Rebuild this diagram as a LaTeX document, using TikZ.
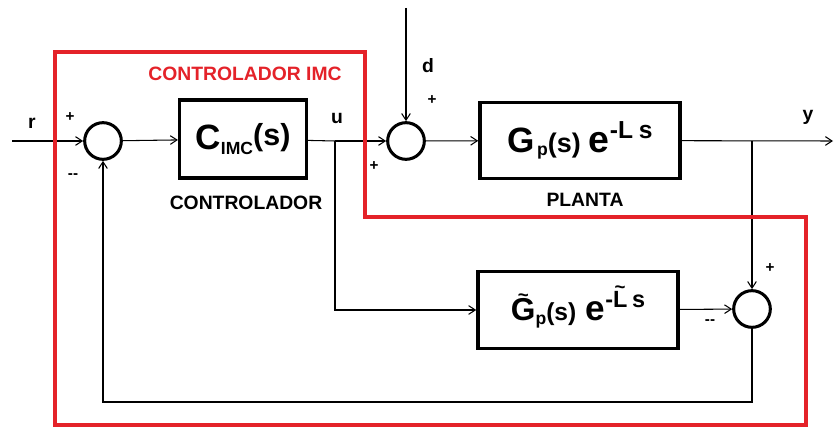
\documentclass[tikz,border=0pt]{standalone}
\usepackage{fontspec}
\setmainfont{Liberation Sans}
\usetikzlibrary{positioning,arrows.meta}
\definecolor{imcred}{HTML}{E42229}
\newcommand\fz[1]{\fontsize{#1}{#1}\selectfont}
\newcommand\tld[1]{\ooalign{#1\cr\hidewidth\raisebox{0.62em}{\fz{16}\textasciitilde}\hidewidth\cr}}

\begin{document}
\begin{tikzpicture}[
  x=0.03cm,y=-0.03cm,font=\bfseries,
  sumnode/.style={circle,draw,line width=2.6pt,minimum size=1.1cm,inner sep=0pt},
  blk/.style={rectangle,draw,line width=3pt,inner sep=0pt},
  sig/.style={line width=0.9pt},
  arr/.style={sig,-{Straight Barb[length=2mm,width=2.6mm]}},
  lbl/.style={font=\bfseries\fz{16.5}},
  sgn/.style={font=\bfseries\fz{13}}
]
\useasboundingbox (0,0) rectangle (834,428);
% blocks and summing points
\node[sumnode] (s1) at (103,141) {};
\node[blk,minimum width=3.8cm,minimum height=2.35cm] (cimc) at (243,139)
  {{\fz{30}C}{\fz{15}\raisebox{-0.55ex}{IMC}}{\fz{26}\raisebox{0.25ex}{(s)}}};
\node[sumnode] (s2) at (406,141) {};
\node[blk,minimum width=6cm,minimum height=2.27cm] (plant) at (580,140.5)
  {{\fz{30}G}{\fz{15}\raisebox{-0.4ex}{\kern2pt p}}{\fz{23}(s)}\kern7pt{\fz{32}e}{\fz{21}\raisebox{1.05ex}{-L\kern5pt s}}};
\node[blk,minimum width=6cm,minimum height=2.3cm] (model) at (578,310)
  {{\fz{27}\tld{G}}{\fz{15}\raisebox{-0.4ex}{p}}{\fz{21}(s)}\kern8pt{\fz{30}e}{\fz{20}\raisebox{1.05ex}{-\tld{L}\kern4pt s}}};
\node[sumnode] (s3) at (752,309) {};
% signal points
\coordinate (rin) at (12,141);
\coordinate (bu) at (335,141);
\coordinate (dtop) at (406,8);
\coordinate (by) at (752,141);
\coordinate (yout) at (833,141);
\coordinate (fb) at (103,402);
% labels
\node[lbl] (lr) at (32,123) {r};
\node[sgn] (p1) at (70,117) {+};
\node[sgn] (m1) at (73,176) {{-}{-}};
\node[lbl] (lctrl) at (246,203) {CONTROLADOR};
\node[lbl] (lu) at (337,118) {u};
\node[lbl] (ld) at (428,66) {d};
\node[sgn] (p2) at (432,100) {+};
\node[sgn] (p3) at (374,166) {+};
\node[lbl] (lplant) at (585,200) {PLANTA};
\node[lbl] (ly) at (808,117) {y};
\node[sgn] (p4) at (770,268) {+};
\node[sgn] (m3) at (710,322) {{-}{-}};
\node[lbl,text=imcred] (limc) at (245,74) {CONTROLADOR IMC};
% connectors
\draw[arr] (rin) -- (s1);
\draw[arr] (s1) -- (cimc);
\draw[sig] (cimc) -- (bu);
\draw[arr] (bu) -- (s2);
\draw[arr] (dtop) -- (s2);
\draw[arr] (s2) -- (plant);
\draw[arr] (plant) -- (yout);
\draw[arr] (bu) |- (model);
\draw[arr] (by) -- (s3);
\draw[arr] (model) -- (s3);
\draw[arr] (s3) |- (fb) -- (s1);
% IMC frame
\draw[imcred,line width=3pt] (55,52) -- (365,52) -- (365,217) -- (806,217)
  -- (806,425) -- (55,425) -- cycle;
\end{tikzpicture}
\end{document}
